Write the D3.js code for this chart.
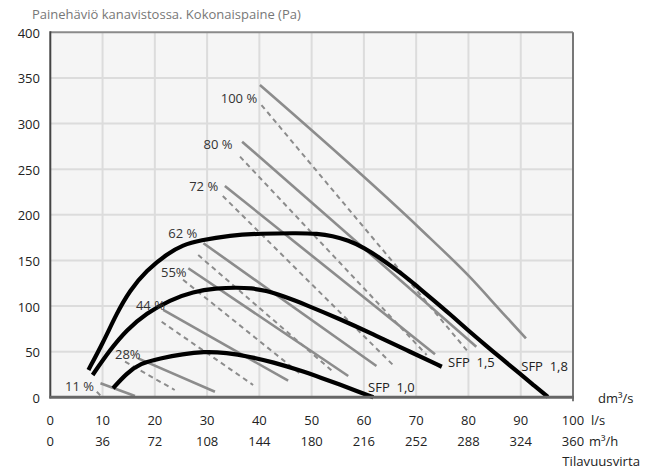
<!DOCTYPE html>
<html>
<head>
<meta charset="utf-8">
<script src="https://cdn.jsdelivr.net/npm/d3@7"></script>
<style>
  html, body { margin: 0; padding: 0; background: #ffffff; }
  svg { display: block; }
  text { font-family: "Open Sans", "Lato", sans-serif; }
</style>
</head>
<body>
<svg id="chart" width="648" height="470"></svg>
<script>
// ---------------- DATA ----------------
const chartTitle = "Painehäviö kanavistossa. Kokonaispaine (Pa)";
const xTicks = [0, 10, 20, 30, 40, 50, 60, 70, 80, 90, 100];          // l/s
const xTicksM3h = ["0", "36", "72", "108", "144", "180", "216", "252", "288", "324", "360"];
const yTicks = [0, 50, 100, 150, 200, 250, 300, 350, 400];
const unitLabels = ["dm³/s", "l/s", "m³/h"];
const xTitle = "Tilavuusvirta";

// fan curves (flow l/s, pressure Pa)
const curveSFP18 = [[7.3,30],[10.1,60],[12.7,92],[15.2,117],[18.4,139],[22.3,157],[25.4,167],[28.6,172],
  [34.4,177.5],[40.1,179.5],[47.7,180],[51,179.3],[54,177],[57,172],[60,164],[63,153],[66.9,137],[70.1,122],
  [73.2,107],[76.5,91],[79.6,75],[83.4,56.5],[86.0,44],[89.8,26],[92.4,13.5],[95.2,0.5]];
const curveSFP15 = [[8.1,24.5],[11.4,51.8],[14.6,73.8],[18.4,92.1],[22.9,106.6],[27.3,115.7],[31.8,119.5],
  [35.6,120.3],[38.5,119.6],[41.2,117],[44.5,111],[49.0,101.2],[55.4,85.7],[61.8,69],[68.1,51.8],[74.9,33.5]];
const curveSFP10 = [[12.0,9.9],[14.6,26.3],[17.2,37.3],[21.0,42.7],[25.4,47.5],[29.3,50.0],[33.7,48.9],
  [38.2,44.5],[42.6,38.5],[47.8,29.5],[52,21],[55.4,14],[58.6,7],[61.8,0]];
const sfpLabels = ["SFP  1,8", "SFP  1,5", "SFP  1,0"];
const sfpLabelPos = [[90.1,29.2],[76.1,33.5],[60.8,6.1]];

// fan speed lines
const speedLabels = ["100 %", "80 %", "72 %", "62 %", "55%", "44 %", "28%", "11 %"];
const speedLabelPos = [[39.58,322.2],[34.88,272.1],[32.12,226.4],[28.11,174.2],[26.08,131.5],[21.93,95.7],[17.28,41.6],[8.36,7.2]];
const speedSolid = [
  [[40.1,342.2],[70.7,185.0],[80.2,132.2],[86.6,92.1],[91.0,64.7]],
  [[36.7,280.1],[81.5,55.5]],
  [[33.4,231.6],[73.6,47.1]],
  [[29.3,168.8],[62.4,34.3]],
  [[26.4,141.4],[57.0,23.3]],
  [[21.6,95.7],[45.5,18.2]],
  [[16.8,42.7],[31.5,6.1]],
  [[9.6,15.3],[16.2,1.4]]
];
const speedDashed = [
  [[40.4,320.3],[79.9,50.0]],
  [[36.3,263.7],[72.0,46.4]],
  [[33.0,220.6],[65.9,33.5]],
  [[28.3,155.9],[54.1,28.1]],
  [[25.4,128.8],[48.1,24.4]],
  [[21.3,82.8],[38.8,13.5]],
  [[14.3,39.0],[23.8,8.0]],
  [[8.9,6.1],[9.8,0.7]]
];

// ---------------- DRAW ----------------
const svg = d3.select("#chart");
const L = 50.3, R = 573, T = 32.3, B = 397.3;
const FS = 13;
const x = d3.scaleLinear().domain([0, 100]).range([L, R]);
const y = d3.scaleLinear().domain([0, 400]).range([B, T]);

svg.append("rect").attr("x", L).attr("y", T).attr("width", R - L).attr("height", B - T).attr("fill", "#f5f5f5");

// grid
svg.append("g").selectAll("line").data(xTicks.slice(1, -1)).join("line")
  .attr("x1", d => x(d)).attr("x2", d => x(d)).attr("y1", T).attr("y2", B)
  .attr("stroke", "#dcdcdc").attr("stroke-width", 2);
svg.append("g").selectAll("line").data(yTicks.slice(1, -1)).join("line")
  .attr("x1", L).attr("x2", R).attr("y1", d => y(d)).attr("y2", d => y(d))
  .attr("stroke", "#dcdcdc").attr("stroke-width", 2);

// borders
svg.append("line").attr("x1", L).attr("x2", R).attr("y1", T).attr("y2", T).attr("stroke", "#8a8a8a").attr("stroke-width", 2);
svg.append("line").attr("x1", R).attr("x2", R).attr("y1", T).attr("y2", B + 4).attr("stroke", "#777").attr("stroke-width", 2);

const line = d3.line().x(d => x(d[0])).y(d => y(d[1]));
const smooth = d3.line().x(d => x(d[0])).y(d => y(d[1])).curve(d3.curveMonotoneX);

// dashed speed lines
svg.append("g").selectAll("path").data(speedDashed).join("path")
  .attr("d", line).attr("fill", "none").attr("stroke", "#8c8c8c").attr("stroke-width", 2)
  .attr("stroke-dasharray", "5,4");
// solid speed lines
svg.append("g").selectAll("path").data(speedSolid).join("path")
  .attr("d", smooth).attr("fill", "none").attr("stroke", "#8c8c8c").attr("stroke-width", 2.6);

// fan curves
svg.append("g").selectAll("path").data([curveSFP18, curveSFP15, curveSFP10]).join("path")
  .attr("d", d3.line().x(d => x(d[0])).y(d => y(d[1])).curve(d3.curveBasis))
  .attr("fill", "none").attr("stroke", "#000").attr("stroke-width", 4.2);

// axes lines
svg.append("line").attr("x1", L).attr("x2", L).attr("y1", T - 1).attr("y2", B + 1).attr("stroke", "#444").attr("stroke-width", 2);
svg.append("line").attr("x1", L - 1).attr("x2", R + 1).attr("y1", B).attr("y2", B).attr("stroke", "#666").attr("stroke-width", 3);

// speed labels
svg.append("g").selectAll("text").data(speedLabels).join("text")
  .attr("x", (d, i) => x(speedLabelPos[i][0])).attr("y", (d, i) => y(speedLabelPos[i][1]))
  .attr("text-anchor", "end").attr("font-size", FS).attr("fill", "#333").text(d => d);

// SFP labels
svg.append("g").selectAll("text").data(sfpLabels).join("text")
  .attr("x", (d, i) => x(sfpLabelPos[i][0])).attr("y", (d, i) => y(sfpLabelPos[i][1]))
  .attr("font-size", FS).attr("fill", "#222").style("white-space", "pre").text(d => d);

// y tick labels
svg.append("g").selectAll("text").data(yTicks).join("text")
  .attr("x", 40).attr("y", d => y(d) + 5.5).attr("text-anchor", "end")
  .attr("font-size", FS).attr("fill", "#222").text(d => d);

// x tick labels (l/s)
svg.append("g").selectAll("text").data(xTicks).join("text")
  .attr("x", d => x(d)).attr("y", 425).attr("text-anchor", "middle")
  .attr("font-size", FS).attr("fill", "#222").text(d => d);
// x tick labels (m3/h)
svg.append("g").selectAll("text").data(xTicksM3h).join("text")
  .attr("x", (d, i) => x(xTicks[i])).attr("y", 446).attr("text-anchor", "middle")
  .attr("font-size", FS).attr("fill", "#222").text(d => d);

// units
svg.append("text").attr("x", 598).attr("y", 403).attr("font-size", FS).attr("fill", "#222").text(unitLabels[0]);
svg.append("text").attr("x", 591).attr("y", 425).attr("font-size", FS).attr("fill", "#222").text(unitLabels[1]);
svg.append("text").attr("x", 589).attr("y", 446).attr("font-size", FS).attr("fill", "#222").text(unitLabels[2]);
svg.append("text").attr("x", 640).attr("y", 466).attr("text-anchor", "end").attr("font-size", 13.2).attr("fill", "#222").text(xTitle);

// title
svg.append("text").attr("x", 32).attr("y", 18.5).attr("font-size", 13).attr("fill", "#777").text(chartTitle);
</script>
</body>
</html>
